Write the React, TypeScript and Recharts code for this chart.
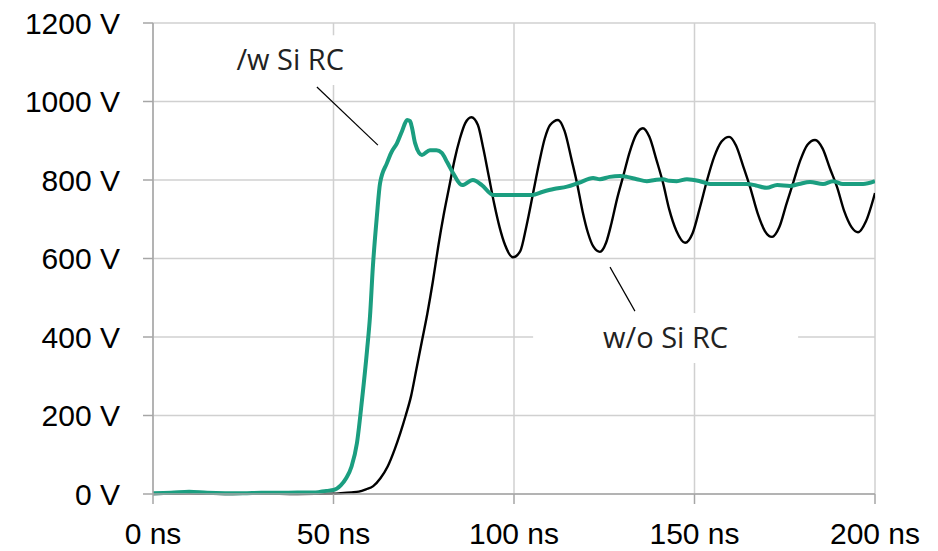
import {
  LineChart,
  Line,
  XAxis,
  YAxis,
  CartesianGrid,
  ReferenceLine,
  ReferenceArea
} from "recharts"

// time (ns) / voltage (V) samples

const BLACK_T = [
  0, 10, 20, 30, 40, 50, 52, 55, 57, 59, 61, 63, 65, 67, 68.5, 70, 71.5, 73, 74.5, 76,
  77.5, 79, 80.5, 82, 83.5, 85, 86.5, 88.2, 90, 91.5, 93, 94.5, 96, 97.5, 99.7, 101.7,
  103.5, 105.3, 107, 108.5, 110, 112.2, 114, 116, 117.5, 119, 120.5, 122, 123.8, 125.5,
  127, 128.5, 130.2, 132, 133.8, 135.7, 137.5, 139.5, 141.3, 143, 145, 147.4, 149.5,
  151.5, 153.5, 155.5, 157.5, 159.6, 161.5, 163.5, 165.4, 167.5, 169.5, 171.5, 173.5,
  175.5, 177.3, 179.3, 181.3, 183.4, 185.5, 187.5, 189.5, 191.5, 193.5, 195.3, 197.5, 200
]
const BLACK_V = [
  0, 2, 0, 1, 0, 1, 2, 4, 6, 12, 20, 40, 70, 115, 155, 200, 250, 320, 390, 460,
  540, 630, 710, 780, 850, 905, 945, 960, 940, 880, 810, 740, 680, 635, 603, 618,
  685, 767, 845, 905, 940, 953, 925, 850, 790, 720, 665, 630, 617, 640,
  690, 750, 808, 870, 915, 932, 910, 850, 792, 725, 670, 640, 665,
  730, 800, 860, 898, 910, 888, 835, 782, 715, 670, 655, 680,
  740, 792, 850, 890, 902, 880, 830, 782, 720, 680, 667, 695, 767
]

const GREEN_T = [
  0, 5, 10, 15, 20, 25, 30, 35, 40, 45, 48, 50, 52, 53.5, 55, 56.5, 57.9, 59.3, 60.1,
  60.9, 62, 62.9, 64.8, 66, 67.6, 69, 70.4, 71.2, 71.7, 72.6, 74.5, 76.7, 78.5, 80,
  81.5, 83.1, 85.6, 88.6, 91.1, 94.2, 98, 100, 105, 108, 111, 114.7, 118, 121.9, 123.8,
  126.5, 129.4, 131.3, 134, 136.8, 139, 141.3, 143, 145.1, 147.9, 151.5, 154.3, 160,
  164.5, 167, 170, 172.9, 176.5, 179, 182, 185.6, 188.4, 191.1, 196.7, 200
]
const GREEN_V = [
  2, 3, 6, 3, 2, 2, 3, 3, 4, 4, 8, 10, 22, 40, 70, 130, 240, 367, 451,
  578, 706, 792, 843, 870, 894, 925, 953, 950, 935, 894, 864, 876, 876, 869,
  845, 818, 787, 800, 787, 762, 762, 762, 762, 770, 777, 783, 793, 805, 802,
  808, 810, 808, 802, 797, 800, 802, 798, 797, 802, 797, 790, 790,
  790, 786, 780, 787, 785, 790, 795, 790, 797, 790, 790, 797
]

const X_TICKS = [0, 50, 100, 150, 200]
const Y_TICKS = [0, 200, 400, 600, 800, 1000, 1200]

const blackData = BLACK_T.map((t, i) => ({ t, v: BLACK_V[i] }))
const greenData = GREEN_T.map((t, i) => ({ t, v: GREEN_V[i] }))

const AXIS_FONT = "'Liberation Sans', Arial, sans-serif"
const NOTE_FONT = "'Open Sans', 'Noto Sans', sans-serif"

export default function App() {

  return (
    <div style={{ width: 938, height: 551 }}>
      <style>{"body{margin:0}"}</style>
      <LineChart
        width={938}
        height={551}
        margin={{ top: 23, right: 63, bottom: 0, left: 0 }}
      >
        <CartesianGrid stroke="#d0d0d0" strokeWidth={1.5} />

        <XAxis
          type="number"
          dataKey="t"
          domain={[0, 200]}
          ticks={X_TICKS}
          tickFormatter={(v: number) => `${v} ns`}
          height={57}
          tickSize={10}
          tickMargin={19}
          stroke="#a6a6a6"
          strokeWidth={1.5}
          tick={{ fill: "#000", fontSize: 30, fontFamily: AXIS_FONT }}
          allowDataOverflow
        />
        <YAxis
          type="number"
          domain={[0, 1200]}
          ticks={Y_TICKS}
          tickFormatter={(v: number) => `${v} V`}
          width={153}
          tickSize={10}
          tickMargin={23}
          stroke="#a6a6a6"
          strokeWidth={1.5}
          tick={{ fill: "#000", fontSize: 30, fontFamily: AXIS_FONT }}
        />

        <ReferenceArea
          x1={17}
          x2={59}
          y1={1042}
          y2={1169}
          fill="#fff"
          fillOpacity={1}
          stroke="none"
          label={{ value: "/w Si RC", position: "center", fill: "#222", fontSize: 29, fontFamily: NOTE_FONT }}
        />
        <ReferenceArea
          x1={105.3}
          x2={178.7}
          y1={334}
          y2={461}
          fill="#fff"
          fillOpacity={1}
          stroke="none"
          label={{ value: "w/o Si RC", position: "center", fill: "#222", fontSize: 29, fontFamily: NOTE_FONT }}
        />

        <ReferenceLine
          segment={[{ x: 45.4, y: 1037 }, { x: 62.3, y: 889 }]}
          stroke="#000"
          strokeWidth={1.2}
        />
        <ReferenceLine
          segment={[{ x: 126.6, y: 578 }, { x: 133.5, y: 466 }]}
          stroke="#000"
          strokeWidth={1.2}
        />

        <Line
          data={blackData}
          dataKey="v"
          type="monotone"
          stroke="#000"
          strokeWidth={2.4}
          dot={false}
          isAnimationActive={false}
        />
        <Line
          data={greenData}
          dataKey="v"
          type="monotone"
          stroke="#1b9e80"
          strokeWidth={4}
          dot={false}
          isAnimationActive={false}
        />
      </LineChart>
    </div>
  )

}
